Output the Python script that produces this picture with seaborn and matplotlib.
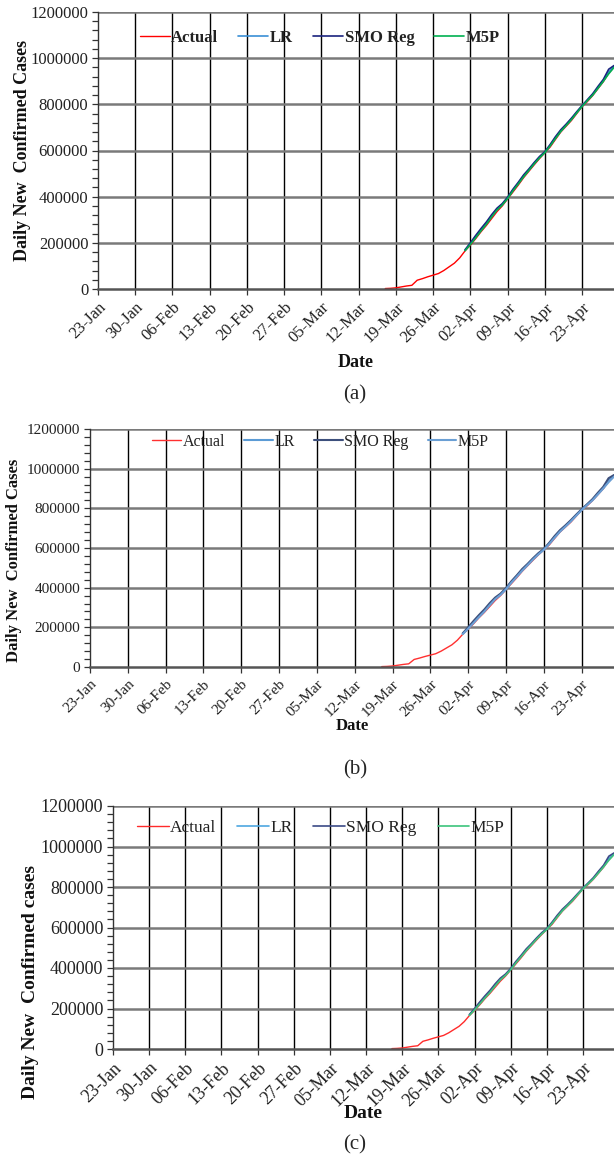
import pandas as pd
import matplotlib.pyplot as plt
import matplotlib.dates as mdates
from matplotlib.ticker import MultipleLocator, StrMethodFormatter
import seaborn as sns

sns.set_theme(style="white")
plt.rcParams['font.family'] = ['Liberation Serif', 'DejaVu Serif']

# --- data ---
actual_dates = pd.date_range("2020-03-17", "2020-04-29", freq="D")
actual = [2000, 3000, 5000, 9000, 13000, 16000, 38000, 45000, 53000, 60000,
          67000, 80000, 96000, 112000, 135000, 165000, 190000, 218000, 248000, 275000,
          305000, 335000, 360000, 390000, 420000, 450000, 482000, 510000, 538000, 565000,
          590000, 615000, 648000, 680000, 705000, 730000, 760000, 790000, 812000, 838000,
          868000, 898000, 935000, 962000]

pred_dates = pd.date_range("2020-04-01", "2020-04-29", freq="D")
lr = [168000, 196000, 228000, 255000, 283000, 315000, 345000, 366000, 393000, 428000,
      458000, 488000, 515000, 545000, 570000, 592000, 622000, 655000, 684000, 710000,
      736000, 765000, 792000, 818000, 842000, 872000, 902000, 940000, 965000]
smo_reg = [170000, 200000, 232000, 262000, 290000, 322000, 350000, 370000, 398000, 432000,
           462000, 494000, 520000, 548000, 574000, 595000, 626000, 660000, 690000, 714000,
           740000, 768000, 795000, 820000, 846000, 878000, 908000, 952000, 968000]
m5p = [166000, 193000, 222000, 252000, 280000, 312000, 342000, 364000, 392000, 425000,
       455000, 486000, 514000, 542000, 568000, 591000, 620000, 652000, 683000, 708000,
       734000, 763000, 791000, 816000, 840000, 870000, 900000, 932000, 960000]

series_names = ["Actual", "LR", "SMO Reg", "M5P"]
tick_dates = pd.date_range("2020-01-23", "2020-04-23", freq="7D")

# long table for seaborn
df = pd.concat([
    pd.DataFrame({"date": actual_dates, "value": actual, "series": "Actual"}),
    pd.DataFrame({"date": pred_dates, "value": lr, "series": "LR"}),
    pd.DataFrame({"date": pred_dates, "value": smo_reg, "series": "SMO Reg"}),
    pd.DataFrame({"date": pred_dates, "value": m5p, "series": "M5P"}),
])

# panel settings: rect in pixels (left, top, right, bottom), colours, text styles
panels = [
    dict(rect=(98, 12, 614, 289), colors=["#ff0000", "#3a8fd6", "#1a237e", "#00b050"],
         lw=[1.0, 1.2, 1.2, 1.2], fs=12, legfs=12, legbold=True, leg=(0.43, 0.906),
         ylabel="Daily New  Confirmed Cases", ylab=(-0.13, 0.5), xlab=-0.235, cap="(a)", capy=395),
    dict(rect=(90, 429, 614, 667), colors=["#ff3030", "#5b9bd5", "#3d4f7c", "#6a9fd4"],
         lw=[1.0, 1.5, 1.5, 1.5], fs=11, legfs=11.5, legbold=False, leg=(0.44, 0.945),
         ylabel="Daily New  Confirmed Cases", ylab=(-0.13, 0.45), xlab=-0.214, cap="(b)", capy=770),
    dict(rect=(113, 806, 614, 1049), colors=["#ff2a2a", "#4ea7e0", "#3b4a86", "#3cc47c"],
         lw=[1.0, 1.2, 1.2, 1.2], fs=13, legfs=12.5, legbold=False, leg=(0.415, 0.91),
         ylabel="Daily New  Confirmed cases", ylab=(-0.148, 0.276), xlab=-0.23, cap="(c)", capy=1145),
]

W, H = 614, 1160
fig = plt.figure(figsize=(W / 100, H / 100), dpi=100)

for p in panels:
    l, t, r, b = p["rect"]
    ax = fig.add_axes([l / W, 1 - b / H, (r - l) / W, (b - t) / H])
    pal = dict(zip(series_names, p["colors"]))
    for name, lw in zip(series_names, p["lw"]):
        sub = df[df["series"] == name]
        sns.lineplot(data=sub, x="date", y="value", color=pal[name], linewidth=lw,
                     label=name, ax=ax, legend=False)

    ax.set_xlim(pd.Timestamp("2020-01-23"), pd.Timestamp("2020-04-29"))
    ax.set_ylim(0, 1200000)
    ax.yaxis.set_major_locator(MultipleLocator(200000))
    ax.yaxis.set_minor_locator(MultipleLocator(40000))
    ax.yaxis.set_major_formatter(StrMethodFormatter("{x:.0f}"))
    ax.set_xticks(tick_dates)
    ax.xaxis.set_major_formatter(mdates.DateFormatter("%d-%b"))

    ax.grid(False)
    for d in tick_dates[1:]:
        ax.axvline(d, color="black", lw=1.0, zorder=0)
    for v in range(200000, 1200001, 200000):
        ax.axhline(v, color="#7a7a7a", lw=1.8, zorder=0)

    for s in ["top", "right"]:
        ax.spines[s].set_visible(False)
    ax.spines["left"].set_color("#333333")
    ax.spines["left"].set_linewidth(1.0)
    ax.spines["bottom"].set_color("#555555")
    ax.spines["bottom"].set_linewidth(1.8)

    ax.tick_params(axis="both", which="both", direction="out", length=4, width=0.9,
                   color="#333333", left=True, bottom=True, labelsize=p["fs"], labelcolor="#222222")
    ax.tick_params(axis="y", which="minor", length=4)
    ax.tick_params(axis="y", which="major", pad=3)
    plt.setp(ax.get_xticklabels(), rotation=45, ha="right", rotation_mode="anchor")

    ax.set_xlabel("Date", fontsize=p["fs"] + 1, fontweight="bold", color="#111111")
    ax.xaxis.set_label_coords(0.5, p["xlab"])
    ax.set_ylabel(p["ylabel"], fontsize=p["fs"] + 1, fontweight="bold", color="#111111")
    ax.yaxis.set_label_coords(p["ylab"][0], p["ylab"][1])

    leg = ax.legend(loc="center", bbox_to_anchor=p["leg"], ncol=4, frameon=False,
                    handlelength=1.8, handletextpad=0.1, columnspacing=1.2,
                    prop={"size": p["legfs"], "weight": "bold" if p["legbold"] else "normal"})
    for txt in leg.get_texts():
        txt.set_color("#222222")

    fig.text(355 / W, 1 - p["capy"] / H, p["cap"], fontsize=15, ha="center", va="center")

fig.savefig("out.png", dpi=100)
